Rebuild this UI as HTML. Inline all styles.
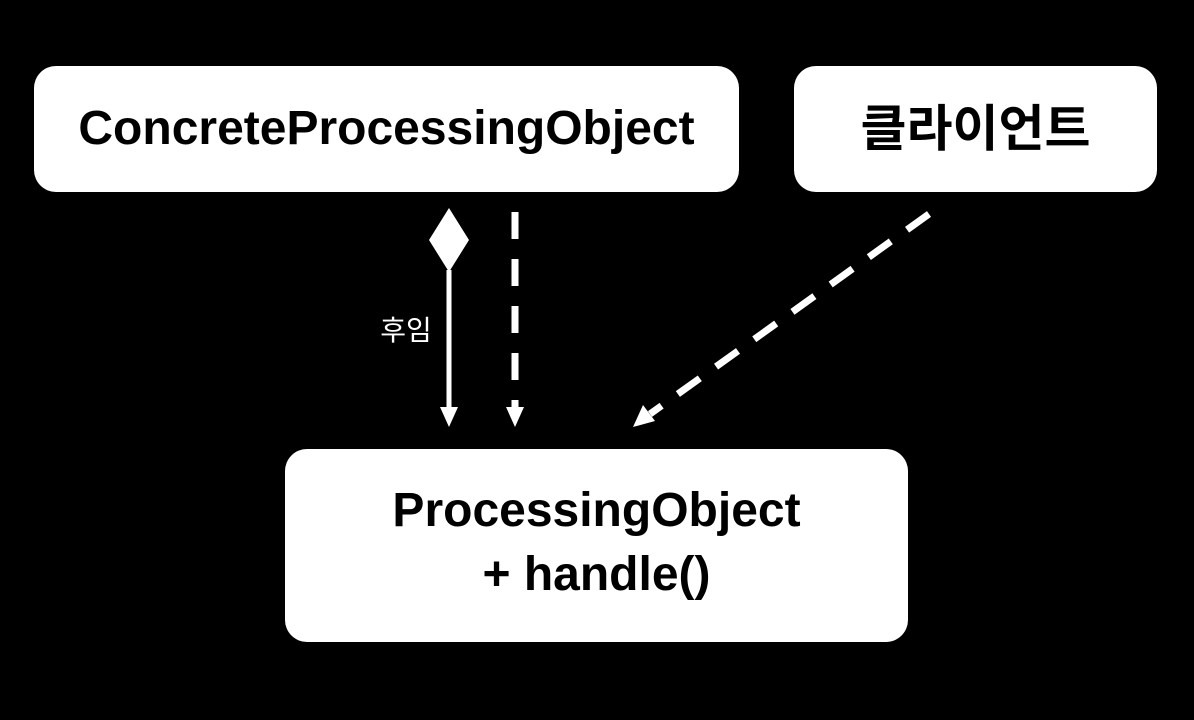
<!DOCTYPE html>
<html><head><meta charset="utf-8"><style>
html,body{margin:0;padding:0;background:#000;}
body{width:1194px;height:720px;position:relative;overflow:hidden;font-family:"Liberation Sans","Noto Sans CJK KR",sans-serif;}
.box{position:absolute;background:#fff;border-radius:22px;color:#000;font-weight:bold;display:flex;align-items:center;justify-content:center;text-align:center;font-size:48px;line-height:64px;}
</style></head><body>
<div class="box" style="left:34px;top:66px;width:705px;height:126px;">ConcreteProcessingObject</div>
<div class="box" style="left:794px;top:66px;width:363px;height:126px;font-size:50px;">클라이언트</div>
<div class="box" style="left:285px;top:449px;width:623px;height:193px;padding-bottom:6px;box-sizing:border-box;">ProcessingObject<br>+ handle()</div>
<svg width="1194" height="720" style="position:absolute;left:0;top:0">
<polygon points="449,208 469,240 449,272 429,240" fill="#fff"/>
<line x1="449" y1="270" x2="449" y2="410" stroke="#fff" stroke-width="5"/>
<polygon points="440,407 458,407 449,427" fill="#fff"/>
<line x1="515" y1="212" x2="515" y2="410" stroke="#fff" stroke-width="7" stroke-dasharray="27,20"/>
<polygon points="506,407 524,407 515,427" fill="#fff"/>
<line x1="929" y1="214" x2="650" y2="414" stroke="#fff" stroke-width="7" stroke-dasharray="27,20"/>
<polygon points="633,427 643,405 655,421" fill="#fff"/>
<text x="406" y="340" fill="#fff" font-size="28" text-anchor="middle" font-family="Liberation Sans, Noto Sans CJK KR, sans-serif">후임</text>
</svg>
</body></html>
